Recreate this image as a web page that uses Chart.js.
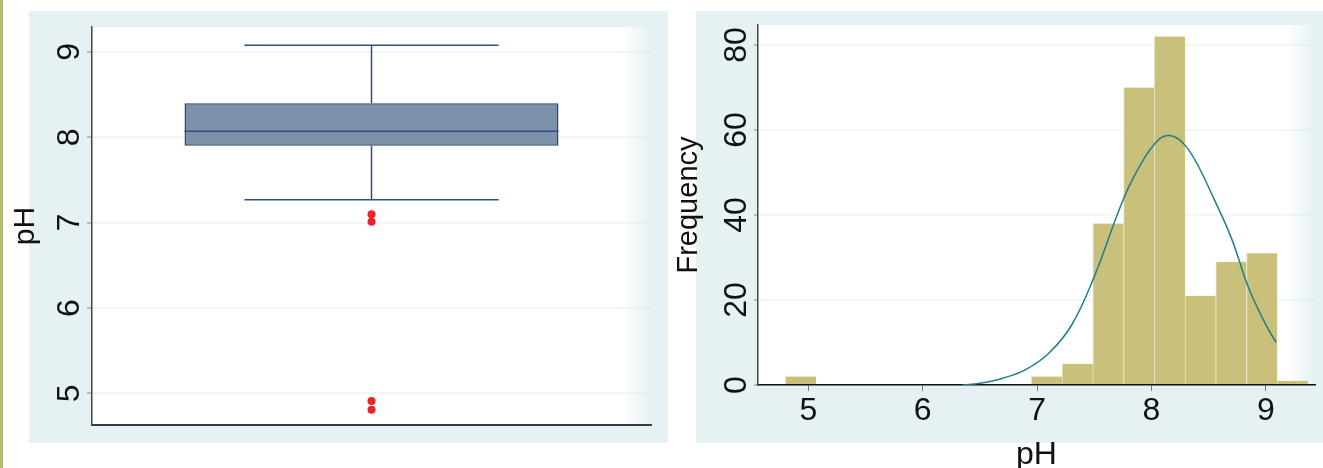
<!DOCTYPE html>
<html>
<head>
<meta charset="utf-8">
<script src="https://cdn.jsdelivr.net/npm/chart.js@4.4.1/dist/chart.umd.min.js"></script>
<style>
  html, body { margin: 0; padding: 0; background: #ffffff; width: 1323px; height: 468px; overflow: hidden; position: relative; }
  .edge { position: absolute; left: 0; top: 0; width: 3px; height: 468px; background: #b3b772; }
  .panel { position: absolute; top: 11px; height: 432px; background: #e6f1f4; }
  #panelBox { left: 29px; width: 639px; }
  #panelHist { left: 696px; width: 627px; }
  .wrap { position: absolute; top: 0; height: 468px; }
  #wrapBox { left: 0; width: 668px; }
  #wrapHist { left: 668px; width: 655px; }
  canvas { display: block; }
</style>
</head>
<body>
<div class="edge"></div>
<div class="panel" id="panelBox"></div>
<div class="panel" id="panelHist"></div>
<div class="wrap" id="wrapBox"><canvas id="boxChart" width="668" height="468"></canvas></div>
<div class="wrap" id="wrapHist"><canvas id="histChart" width="655" height="468"></canvas></div>
<script>
// ---- pH summary (box plot) ----
const boxLabels = ['pH'];
const quartiles = [7.90, 8.07, 8.40];      // Q1, median, Q3
const whiskerEnds = [7.27, 9.08];          // lower / upper adjacent values
const outliers = [7.10, 7.01, 4.91, 4.81];
const boxTicks = [5, 6, 7, 8, 9];

// ---- pH histogram ----
const binCenters = [4.934, 5.203, 5.472, 5.741, 6.009, 6.278, 6.547, 6.816,
                    7.084, 7.353, 7.622, 7.891, 8.159, 8.428, 8.697, 8.966, 9.234];
const binCounts  = [2, 0, 0, 0, 0, 0, 0, 0,
                    2, 5, 38, 70, 82, 21, 29, 31, 1];
const histXTicks = [5, 6, 7, 8, 9];
const histYTicks = [0, 20, 40, 60, 80];

// ---- fitted normal density (frequency scale) ----
const curvePH   = [6.35, 6.50, 6.70, 6.90, 7.10, 7.30, 7.50, 7.70, 7.80, 7.90, 8.00, 8.10, 8.20, 8.30, 8.40, 8.55, 8.70, 8.85, 9.00, 9.09];
const curveFreq = [0.0, 0.4, 1.6, 3.6, 7.4, 14.0, 25.5, 40.0, 46.5, 51.6, 55.8, 58.4, 58.4, 56.2, 52.0, 43.6, 34.5, 22.8, 14.2, 10.0];

Chart.defaults.font.family = "'Liberation Sans', Arial, sans-serif";
Chart.defaults.color = '#111111';
Chart.defaults.animation = false;

// white plotting region with a soft right edge
const plotBackground = {
  id: 'plotBackground',
  beforeDraw(chart, args, opts) {
    const { ctx, chartArea: a } = chart;
    const fade = opts.fade || 0;
    ctx.save();
    ctx.fillStyle = '#ffffff';
    ctx.fillRect(a.left, a.top, a.width - fade, a.height);
    if (fade > 0) {
      const g = ctx.createLinearGradient(a.right - fade, 0, a.right, 0);
      g.addColorStop(0, 'rgba(255,255,255,1)');
      g.addColorStop(1, 'rgba(255,255,255,0)');
      ctx.fillStyle = g;
      ctx.fillRect(a.right - fade, a.top, fade, a.height);
    }
    ctx.restore();
  }
};

// median line, whisker stems and caps for the box plot
const boxWhiskers = {
  id: 'boxWhiskers',
  afterDatasetsDraw(chart, args, opts) {
    const bar = chart.getDatasetMeta(0).data[0];
    if (!bar) return;
    const y = chart.scales.y;
    const ctx = chart.ctx;
    const cx = bar.x;
    const half = bar.width / 2;
    const capHalf = half * opts.capRatio;
    const yQ1 = y.getPixelForValue(quartiles[0]);
    const yMed = y.getPixelForValue(quartiles[1]);
    const yQ3 = y.getPixelForValue(quartiles[2]);
    const yLo = y.getPixelForValue(whiskerEnds[0]);
    const yHi = y.getPixelForValue(whiskerEnds[1]);
    ctx.save();
    ctx.strokeStyle = opts.color;
    ctx.lineWidth = opts.lineWidth;
    ctx.beginPath();
    ctx.moveTo(cx - half, yMed); ctx.lineTo(cx + half, yMed);
    ctx.moveTo(cx, yQ3); ctx.lineTo(cx, yHi);
    ctx.moveTo(cx, yQ1); ctx.lineTo(cx, yLo);
    ctx.moveTo(cx - capHalf, yHi); ctx.lineTo(cx + capHalf, yHi);
    ctx.moveTo(cx - capHalf, yLo); ctx.lineTo(cx + capHalf, yLo);
    ctx.stroke();
    ctx.restore();
  }
};

new Chart(document.getElementById('boxChart'), {
  type: 'bar',
  data: {
    labels: boxLabels,
    datasets: [
      {
        type: 'bar',
        data: [[quartiles[0], quartiles[2]]],
        backgroundColor: '#7e91aa',
        borderColor: '#27497a',
        borderWidth: 1.5,
        borderSkipped: false,
        barPercentage: 0.669,
        categoryPercentage: 1,
        order: 2
      },
      {
        type: 'line',
        data: outliers.map(v => ({ x: boxLabels[0], y: v })),
        showLine: false,
        pointRadius: 4,
        pointBackgroundColor: '#ec2427',
        pointBorderWidth: 0,
        order: 1
      }
    ]
  },
  options: {
    responsive: false,
    layout: { padding: { top: 25, right: 17, left: 0, bottom: 0 } },
    plugins: {
      legend: { display: false },
      tooltip: { enabled: false },
      plotBackground: { fade: 30 },
      boxWhiskers: { capRatio: 0.68, color: '#2d4f82', lineWidth: 1.5 }
    },
    scales: {
      x: {
        afterFit(s) { s.height = 43; },
        border: { display: true, color: '#3a3a3a', width: 2 },
        grid: { drawOnChartArea: false, drawTicks: false },
        ticks: { display: false }
      },
      y: {
        min: 4.63,
        max: 9.29,
        afterFit(s) { s.width = 92; },
        afterBuildTicks(s) { s.ticks = boxTicks.map(v => ({ value: v })); },
        border: { color: '#444444', width: 1.5 },
        grid: { color: 'rgba(214,232,239,0.35)', lineWidth: 2, tickLength: 5, tickColor: '#888888', tickWidth: 1 },
        ticks: {
          minRotation: 90, maxRotation: 90, crossAlign: 'center', padding: 8,
          color: '#111111', font: { size: 32 }
        },
        title: { display: true, text: 'pH', color: '#111111', font: { size: 30 }, padding: { top: 8, bottom: 0 } }
      }
    }
  },
  plugins: [plotBackground, boxWhiskers]
});

new Chart(document.getElementById('histChart'), {
  type: 'bar',
  data: {
    datasets: [
      {
        type: 'line',
        data: curvePH.map((v, i) => ({ x: v, y: curveFreq[i] })),
        borderColor: '#1f7f8c',
        borderWidth: 1.5,
        pointRadius: 0,
        tension: 0.4,
        order: 0
      },
      {
        type: 'bar',
        data: binCenters.map((v, i) => ({ x: v, y: binCounts[i] })),
        backgroundColor: '#c9c07b',
        borderColor: '#e6e2bb',
        borderWidth: { left: 1, right: 0, top: 0, bottom: 0 },
        borderSkipped: false,
        barPercentage: 1,
        categoryPercentage: 1,
        order: 1
      }
    ]
  },
  options: {
    responsive: false,
    layout: { padding: { top: 25, right: 8, left: 0, bottom: 0 } },
    plugins: {
      legend: { display: false },
      tooltip: { enabled: false },
      plotBackground: { fade: 28 }
    },
    scales: {
      x: {
        type: 'linear',
        offset: false,
        min: 4.56,
        max: 9.43,
        afterFit(s) { s.height = 83; },
        afterBuildTicks(s) { s.ticks = histXTicks.map(v => ({ value: v })); },
        border: { color: '#111111', width: 1.5 },
        grid: { drawOnChartArea: false, offset: false, tickLength: 6, tickColor: '#777777' },
        ticks: { padding: 1, color: '#111111', font: { size: 32 } },
        title: { display: true, text: 'pH', color: '#111111', font: { size: 32, lineHeight: 0.8 }, padding: 0 }
      },
      y: {
        min: 0,
        max: 84.7,
        afterFit(s) { s.width = 90; },
        afterBuildTicks(s) { s.ticks = histYTicks.map(v => ({ value: v })); },
        border: { color: '#444444', width: 1.5 },
        grid: { color: 'rgba(214,232,239,0.35)', lineWidth: 2, tickLength: 4, tickColor: '#888888', tickWidth: 1 },
        ticks: {
          minRotation: 90, maxRotation: 90, crossAlign: 'center', padding: -1,
          color: '#111111', font: { size: 32 }
        },
        title: { display: true, text: 'Frequency', color: '#111111', font: { size: 29 }, padding: { top: 4, bottom: 0 } }
      }
    }
  },
  plugins: [plotBackground]
});
</script>
</body>
</html>
